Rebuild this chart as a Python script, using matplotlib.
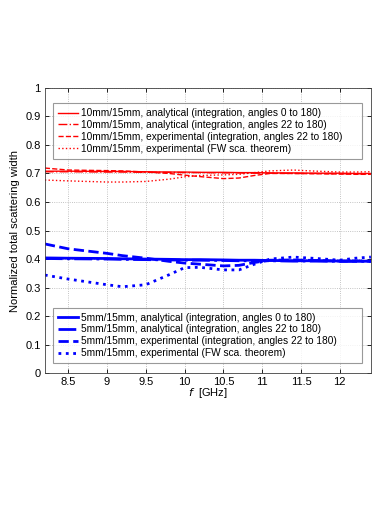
import numpy as np
import matplotlib
matplotlib.use("Agg")
import matplotlib.pyplot as plt

plt.rcParams['font.family'] = ['Liberation Sans', 'DejaVu Sans']

# frequencies (GHz)
f = [8.2, 8.5, 9.0, 9.2, 9.5, 9.8, 10.0, 10.2, 10.5, 10.7, 10.9, 11.1, 11.4, 11.7, 12.0, 12.2, 12.4]

# 10mm/15mm
red_ana0 = [0.708, 0.708, 0.707, 0.707, 0.706, 0.705, 0.705, 0.704, 0.704, 0.703, 0.703, 0.702, 0.702, 0.701, 0.701, 0.700, 0.700]
red_ana22 = [0.706, 0.706, 0.705, 0.705, 0.704, 0.704, 0.703, 0.703, 0.702, 0.702, 0.701, 0.701, 0.700, 0.700, 0.699, 0.699, 0.699]
red_exp22 = [0.719, 0.712, 0.710, 0.709, 0.705, 0.700, 0.694, 0.689, 0.682, 0.684, 0.693, 0.700, 0.700, 0.699, 0.698, 0.697, 0.697]
red_fw = [0.677, 0.674, 0.670, 0.670, 0.672, 0.680, 0.688, 0.693, 0.695, 0.697, 0.703, 0.709, 0.712, 0.708, 0.705, 0.705, 0.706]

# 5mm/15mm
blue_ana0 = [0.404, 0.403, 0.402, 0.401, 0.400, 0.399, 0.398, 0.398, 0.397, 0.396, 0.396, 0.395, 0.394, 0.394, 0.393, 0.393, 0.392]
blue_ana22 = [0.402, 0.401, 0.400, 0.399, 0.398, 0.397, 0.396, 0.396, 0.395, 0.394, 0.394, 0.394, 0.393, 0.393, 0.392, 0.392, 0.392]
blue_exp22 = [0.453, 0.436, 0.420, 0.412, 0.403, 0.392, 0.386, 0.382, 0.376, 0.378, 0.388, 0.396, 0.397, 0.395, 0.393, 0.393, 0.393]
blue_fw = [0.344, 0.330, 0.310, 0.303, 0.310, 0.345, 0.370, 0.371, 0.362, 0.362, 0.382, 0.400, 0.407, 0.402, 0.396, 0.403, 0.407]

labels_red = ['10mm/15mm, analytical (integration, angles 0 to 180)',
              '10mm/15mm, analytical (integration, angles 22 to 180)',
              '10mm/15mm, experimental (integration, angles 22 to 180)',
              '10mm/15mm, experimental (FW sca. theorem)']
labels_blue = ['5mm/15mm, analytical (integration, angles 0 to 180)',
               '5mm/15mm, analytical (integration, angles 22 to 180)',
               '5mm/15mm, experimental (integration, angles 22 to 180)',
               '5mm/15mm, experimental (FW sca. theorem)']

fig = plt.figure(figsize=(3.9, 5.05), dpi=100)
ax = fig.add_axes([0.115, 0.261, 0.836, 0.565])

r1, = ax.plot(f, red_ana0, '-', color='#ff0000', lw=1.0)
r2, = ax.plot(f, red_ana22, '-.', color='#ff0000', lw=1.0)
r3, = ax.plot(f, red_exp22, '--', color='#ff0000', lw=1.0)
r4, = ax.plot(f, red_fw, ':', color='#ff0000', lw=1.0)

b1, = ax.plot(f, blue_ana0, '-', color='#0000ff', lw=2.0)
b2, = ax.plot(f, blue_ana22, '-.', color='#0000ff', lw=2.0)
b3, = ax.plot(f, blue_exp22, '--', color='#0000ff', lw=2.0)
b4, = ax.plot(f, blue_fw, ':', color='#0000ff', lw=2.0)

ax.set_xlim(8.2, 12.4)
ax.set_ylim(0, 1)
ax.set_xticks([8.5, 9, 9.5, 10, 10.5, 11, 11.5, 12])
ax.set_xticklabels(['8.5', '9', '9.5', '10', '10.5', '11', '11.5', '12'])
ax.set_yticks(np.arange(0, 1.01, 0.1))
ax.set_yticklabels(['0', '0.1', '0.2', '0.3', '0.4', '0.5', '0.6', '0.7', '0.8', '0.9', '1'])
ax.tick_params(direction='in', top=True, right=True, labelsize=8, length=3, width=0.6, pad=3)
ax.grid(True, linestyle=':', color='#b0b0b0', lw=0.6)
for s in ax.spines.values():
    s.set_linewidth(0.6)
    s.set_color('#404040')

ax.set_xlabel('$f$  [GHz]', fontsize=8, labelpad=-1)
ax.set_ylabel('Normalized total scattering width', fontsize=8, labelpad=4)

leg_kw = dict(fontsize=7.3, frameon=True, fancybox=False, edgecolor='#808080',
              handlelength=2.0, handletextpad=0.3, labelspacing=0.18,
              borderpad=0.5, borderaxespad=0, mode='expand')
leg1 = ax.legend([r1, r2, r3, r4], labels_red, loc='upper left',
                 bbox_to_anchor=(0.0245, 0.0, 0.948, 0.947), **leg_kw)
leg1.get_frame().set_linewidth(0.8)
ax.add_artist(leg1)
leg2 = ax.legend([b1, b2, b3, b4], labels_blue, loc='lower left',
                 bbox_to_anchor=(0.0245, 0.035, 0.948, 0.9), **leg_kw)
leg2.get_frame().set_linewidth(0.8)

fig.savefig('out.png', dpi=100)
